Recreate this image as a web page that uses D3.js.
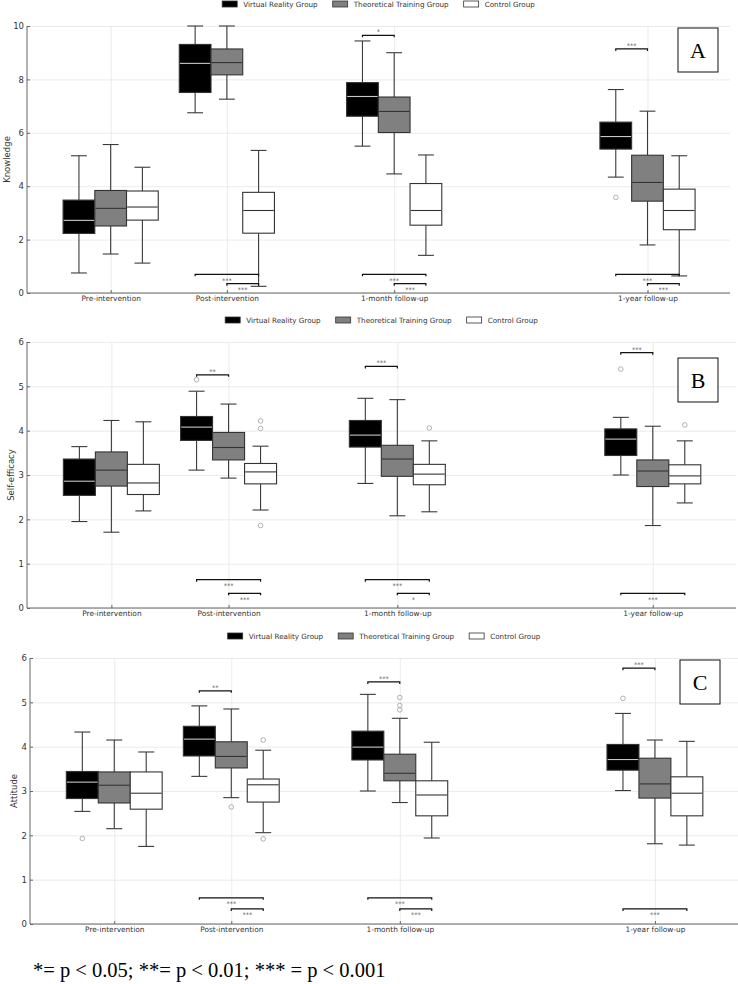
<!DOCTYPE html>
<html>
<head>
<meta charset="utf-8">
<script src="https://cdn.jsdelivr.net/npm/d3@7"></script>
<style>
  body { margin: 0; background: #fff; }
  svg { display: block; }
</style>
</head>
<body>
<svg id="chart" width="738" height="984"></svg>
<script>
// ---------------------------------------------------------------
// data: box stats are [whiskerLow, q1, median, q3, whiskerHigh]
// ---------------------------------------------------------------
const categories = ["Pre-intervention", "Post-intervention", "1-month follow-up", "1-year follow-up"];
const catPositions = [0, 1, 2.44, 4.62];
const groups = ["Virtual Reality Group", "Theoretical Training Group", "Control Group"];

// Knowledge
const knowledgeVR = [[0.75, 2.23, 2.72, 3.48, 5.14], [6.75, 7.51, 8.60, 9.31, 10.0], [5.50, 6.62, 7.36, 7.88, 9.44], [4.34, 5.39, 5.86, 6.40, 7.62]];
const knowledgeTT = [[1.46, 2.51, 3.17, 3.84, 5.56], [7.26, 8.17, 8.63, 9.14, 10.0], [4.46, 6.01, 6.80, 7.34, 9.00], [1.80, 3.44, 4.14, 5.16, 6.81]];
const knowledgeCtrl = [[1.12, 2.73, 3.22, 3.82, 4.71], [0.25, 2.24, 3.09, 3.77, 5.34], [1.41, 2.54, 3.09, 4.10, 5.17], [0.64, 2.37, 3.09, 3.89, 5.14]];
// [category, group, value]
const knowledgeOutliers = [[3, 0, 3.58]];
// [category, fromGroup, toGroup, value, label]
const knowledgeSig = [
  [1, 0, 2, 0.70, "***"], [1, 1, 2, 0.35, "***"],
  [2, 0, 1, 9.65, "*"], [2, 0, 2, 0.70, "***"], [2, 1, 2, 0.35, "***"],
  [3, 0, 1, 9.14, "***"], [3, 0, 2, 0.70, "***"], [3, 1, 2, 0.35, "***"]
];

// Self-efficacy
const selfEffVR = [[1.95, 2.54, 2.86, 3.36, 3.64], [3.11, 3.78, 4.08, 4.32, 4.89], [2.81, 3.63, 3.90, 4.23, 4.73], [3.00, 3.44, 3.81, 4.04, 4.30]];
const selfEffTT = [[1.71, 2.75, 3.11, 3.52, 4.23], [2.93, 3.34, 3.62, 3.96, 4.60], [2.08, 2.97, 3.36, 3.67, 4.70], [1.86, 2.74, 3.09, 3.34, 4.10]];
const selfEffCtrl = [[2.19, 2.56, 2.82, 3.24, 4.20], [2.21, 2.80, 3.07, 3.26, 3.65], [2.17, 2.78, 3.02, 3.24, 3.77], [2.37, 2.80, 2.98, 3.23, 3.77]];
const selfEffOutliers = [[1, 0, 5.15], [1, 2, 4.22], [1, 2, 4.05], [1, 2, 1.86], [2, 2, 4.06], [3, 0, 5.39], [3, 2, 4.13]];
const selfEffSig = [
  [1, 0, 1, 5.26, "**"], [1, 0, 2, 0.64, "***"], [1, 1, 2, 0.33, "***"],
  [2, 0, 1, 5.45, "***"], [2, 0, 2, 0.64, "***"], [2, 1, 2, 0.33, "*"],
  [3, 0, 1, 5.76, "***"], [3, 0, 2, 0.33, "***"]
];

// Attitude
const attitudeVR = [[2.54, 2.83, 3.20, 3.44, 4.33], [3.33, 3.79, 4.17, 4.46, 4.92], [3.00, 3.70, 3.99, 4.35, 5.18], [3.01, 3.47, 3.71, 4.05, 4.75]];
const attitudeTT = [[2.15, 2.73, 3.13, 3.43, 4.15], [2.85, 3.52, 3.78, 4.11, 4.85], [2.74, 3.23, 3.40, 3.83, 4.64], [1.81, 2.84, 3.16, 3.74, 4.15]];
const attitudeCtrl = [[1.75, 2.59, 2.95, 3.43, 3.88], [2.06, 2.75, 3.14, 3.27, 3.92], [1.94, 2.44, 2.91, 3.23, 4.10], [1.78, 2.44, 2.95, 3.32, 4.12]];
const attitudeOutliers = [[0, 0, 1.93], [1, 1, 2.64], [1, 2, 4.15], [1, 2, 1.92], [2, 1, 5.11], [2, 1, 4.93], [2, 1, 4.83], [3, 0, 5.09]];
const attitudeSig = [
  [1, 0, 1, 5.26, "**"], [1, 0, 2, 0.59, "***"], [1, 1, 2, 0.34, "***"],
  [2, 0, 1, 5.46, "***"], [2, 0, 2, 0.59, "***"], [2, 1, 2, 0.34, "***"],
  [3, 0, 1, 5.77, "***"], [3, 0, 2, 0.34, "***"]
];

const knowledgeTicks = [0, 2, 4, 6, 8, 10];
const scaleTicks = [0, 1, 2, 3, 4, 5, 6];

// ---------------------------------------------------------------
// styles / layout
// ---------------------------------------------------------------
const fills = ["#000000", "#808080", "#ffffff"];
const medianColors = ["#c8c8c8", "#333333", "#333333"];
const SANS = "'DejaVu Sans', sans-serif";
const SERIF = "'Liberation Serif', 'Times New Roman', serif";
const boxWidth = 0.273;   // in x-data units

const panels = [
  { label: "A", ylabel: "Knowledge", stats: [knowledgeVR, knowledgeTT, knowledgeCtrl],
    outliers: knowledgeOutliers, sig: knowledgeSig, ticks: knowledgeTicks, yMax: 10,
    left: 27, right: 730, top: 26, bottom: 293, legendY: 4, ylabelX: 7,
    letterBox: [678, 28, 40, 44] },
  { label: "B", ylabel: "Self-efficacy", stats: [selfEffVR, selfEffTT, selfEffCtrl],
    outliers: selfEffOutliers, sig: selfEffSig, ticks: scaleTicks, yMax: 6,
    left: 27, right: 736, top: 342, bottom: 608, legendY: 320, ylabelX: 11,
    letterBox: [678, 358, 40, 44] },
  { label: "C", ylabel: "Attitude", stats: [attitudeVR, attitudeTT, attitudeCtrl],
    outliers: attitudeOutliers, sig: attitudeSig, ticks: scaleTicks, yMax: 6,
    left: 30, right: 738, top: 658, bottom: 924, legendY: 636, ylabelX: 14,
    letterBox: [680, 660, 40, 44] }
];

const svg = d3.select("#chart");

// ---------------------------------------------------------------
// one boxplot panel
// ---------------------------------------------------------------
function drawPanel(p) {
  const g = svg.append("g");
  const x = d3.scaleLinear().domain([-0.72, 5.33]).range([p.left, p.right]);
  const y = d3.scaleLinear().domain([0, p.yMax]).range([p.bottom, p.top]);
  const bw = x(boxWidth) - x(0);
  const cx = (ci, gi) => x(catPositions[ci]) + (gi - 1) * bw;

  // grid
  g.append("g")
    .attr("transform", `translate(${p.left},0)`)
    .call(d3.axisLeft(y).tickValues(p.ticks).tickSize(-(p.right - p.left)).tickFormat(""))
    .call(a => a.select(".domain").remove())
    .call(a => a.selectAll("line").attr("stroke", "#e6e6e6").attr("stroke-width", 0.8));
  g.append("g")
    .attr("transform", `translate(0,${p.bottom})`)
    .call(d3.axisBottom(x).tickValues(catPositions).tickSize(-(p.bottom - p.top)).tickFormat(""))
    .call(a => a.select(".domain").remove())
    .call(a => a.selectAll("line").attr("stroke", "#e6e6e6").attr("stroke-width", 0.8));

  // boxes
  p.stats.forEach((series, gi) => {
    series.forEach((s, ci) => {
      const [lo, q1, med, q3, hi] = s;
      const c = cx(ci, gi);
      const bg = g.append("g");
      bg.append("line").attr("x1", c).attr("x2", c).attr("y1", y(lo)).attr("y2", y(q1));
      bg.append("line").attr("x1", c).attr("x2", c).attr("y1", y(q3)).attr("y2", y(hi));
      bg.append("line").attr("x1", c - bw / 4).attr("x2", c + bw / 4).attr("y1", y(lo)).attr("y2", y(lo));
      bg.append("line").attr("x1", c - bw / 4).attr("x2", c + bw / 4).attr("y1", y(hi)).attr("y2", y(hi));
      bg.selectAll("line").attr("stroke", "#3a3a3a").attr("stroke-width", 1.1);
      bg.append("rect")
        .attr("x", c - bw / 2).attr("width", bw)
        .attr("y", y(q3)).attr("height", y(q1) - y(q3))
        .attr("fill", fills[gi]).attr("stroke", "#333").attr("stroke-width", 1.1);
      bg.append("line")
        .attr("x1", c - bw / 2 + 0.6).attr("x2", c + bw / 2 - 0.6)
        .attr("y1", y(med)).attr("y2", y(med))
        .attr("stroke", medianColors[gi]).attr("stroke-width", 1.1);
    });
  });

  // outliers
  g.selectAll("circle.out").data(p.outliers).enter().append("circle")
    .attr("class", "out")
    .attr("cx", d => cx(d[0], d[1])).attr("cy", d => y(d[2]))
    .attr("r", 2.3).attr("fill", "none").attr("stroke", "#a8a8a8").attr("stroke-width", 0.9);

  // significance brackets
  p.sig.forEach(([ci, a, b, v, lab]) => {
    const x1 = cx(ci, a), x2 = cx(ci, b), yy = y(v);
    g.append("path")
      .attr("d", `M${x1},${yy + 2}V${yy}H${x2}V${yy + 2}`)
      .attr("fill", "none").attr("stroke", "#111").attr("stroke-width", 1.2);
    const above = v > p.yMax / 2;
    g.append("text")
      .attr("x", (x1 + x2) / 2)
      .attr("y", above ? yy - 1 : yy + 8.5)
      .attr("text-anchor", "middle")
      .attr("font-family", SANS).attr("font-size", 6.5).attr("fill", "#555")
      .text(lab);
  });

  // axes (ticks pointing inward)
  const ya = g.append("g")
    .attr("transform", `translate(${p.left},0)`)
    .call(d3.axisLeft(y).tickValues(p.ticks).tickSize(-3).tickSizeOuter(0).tickPadding(3)
      .tickFormat(d3.format("d")));
  const xa = g.append("g")
    .attr("transform", `translate(0,${p.bottom})`)
    .call(d3.axisBottom(x).tickValues(catPositions).tickSize(-3).tickSizeOuter(0)
      .tickPadding(3).tickFormat((d, i) => categories[i]));
  xa.select(".domain").attr("d", `M${p.left},0H${p.right}`);
  ya.select(".domain").attr("d", `M0,${p.bottom}V${p.top}`);
  [ya, xa].forEach(a => {
    a.select(".domain").attr("stroke", "#666").attr("stroke-width", 1);
    a.selectAll(".tick line").attr("stroke", "#666");
    a.selectAll("text").attr("font-family", SANS).attr("fill", "#333");
  });
  ya.selectAll("text").attr("font-size", 8.5);
  xa.selectAll("text").attr("font-size", 7.4);

  // y label
  g.append("text")
    .attr("transform", `translate(${p.ylabelX},${(p.top + p.bottom) / 2}) rotate(-90)`)
    .attr("text-anchor", "middle").attr("dominant-baseline", "central")
    .attr("font-family", SANS).attr("font-size", 8.5).attr("fill", "#333")
    .text(p.ylabel);

  // legend, centred over the plot
  const lg = g.append("g");
  let lx = 0;
  groups.forEach((name, gi) => {
    lg.append("rect").attr("x", lx).attr("y", p.legendY - 3).attr("width", 15).attr("height", 6)
      .attr("fill", fills[gi]).attr("stroke", "#333").attr("stroke-width", 0.8);
    const t = lg.append("text").attr("x", lx + 21).attr("y", p.legendY)
      .attr("dominant-baseline", "central")
      .attr("font-family", SANS).attr("font-size", 7.2).attr("fill", "#333").text(name);
    lx += 21 + t.node().getComputedTextLength() + 15;
  });
  const lw = lx - 15;
  lg.attr("transform", `translate(${(p.left + p.right) / 2 - lw / 2},0)`);

  // panel letter
  const [bx, by, bwid, bh] = p.letterBox;
  g.append("rect").attr("x", bx).attr("y", by).attr("width", bwid).attr("height", bh)
    .attr("fill", "#fff").attr("stroke", "#111").attr("stroke-width", 1);
  g.append("text").attr("x", bx + bwid / 2).attr("y", by + bh / 2)
    .attr("text-anchor", "middle").attr("dominant-baseline", "central")
    .attr("font-family", SERIF).attr("font-size", 22).attr("fill", "#000")
    .text(p.label);
}

panels.forEach(drawPanel);

// footnote
svg.append("text")
  .attr("x", 33).attr("y", 977)
  .attr("font-family", SERIF).attr("font-size", 20.5).attr("fill", "#000")
  .text("*= p < 0.05; **= p < 0.01; *** = p < 0.001");
</script>
</body>
</html>
